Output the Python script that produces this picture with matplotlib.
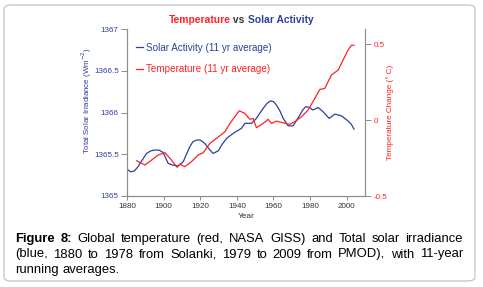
import matplotlib
matplotlib.use('Agg')
import matplotlib.pyplot as plt
from matplotlib.patches import FancyBboxPatch

plt.rcParams['font.family'] = ['Liberation Sans', 'DejaVu Sans']

# solar irradiance, 11 yr average (W/m2)
solar_years = [1880, 1882, 1884, 1886, 1888, 1890.7, 1893, 1895, 1897.5, 1899.8, 1901, 1902.5,
               1905, 1907.9, 1910.7, 1912.5, 1914.3, 1916, 1918, 1920, 1922.5, 1925, 1927,
               1929.8, 1932, 1934.4, 1938, 1942.5, 1944.4, 1948, 1950.7, 1952.5, 1954.4,
               1956.5, 1958.4, 1960, 1961.6, 1963.5, 1965.3, 1968, 1970.7, 1972.5, 1974.4,
               1976, 1977.6, 1979.5, 1981.6, 1984.4, 1987.1, 1990.4, 1993.5, 1997.1, 2000.7,
               2002.5, 2004]
solar_vals = [1365.32, 1365.29, 1365.30, 1365.35, 1365.42, 1365.51, 1365.54, 1365.55, 1365.55,
              1365.52, 1365.46, 1365.39, 1365.37, 1365.36, 1365.41, 1365.50, 1365.59, 1365.65,
              1365.67, 1365.67, 1365.63, 1365.56, 1365.51, 1365.54, 1365.62, 1365.69, 1365.75,
              1365.81, 1365.87, 1365.87, 1365.93, 1365.99, 1366.05, 1366.11, 1366.14, 1366.13,
              1366.09, 1366.02, 1365.93, 1365.84, 1365.84, 1365.90, 1365.97, 1366.03, 1366.07,
              1366.06, 1366.03, 1366.06, 1366.01, 1365.93, 1365.98, 1365.96, 1365.90, 1365.86,
              1365.80]

# temperature change, 11 yr average (deg C)
temp_years = [1885.3, 1889.8, 1893.5, 1897, 1900.7, 1903.5, 1907.4, 1908.9, 1911.6, 1915.2,
              1918.9, 1921.6, 1925.3, 1928.9, 1933.5, 1936.2, 1938.9, 1941.3, 1944.4, 1947.1,
              1948.9, 1950.7, 1954.4, 1957.1, 1958.9, 1961.6, 1965.3, 1968.9, 1971.6, 1975.3,
              1978.9, 1982.6, 1985.3, 1988, 1991.6, 1995.3, 1998, 2000.7, 2002.6, 2004]
temp_vals = [-0.268, -0.296, -0.263, -0.23, -0.215, -0.252, -0.311, -0.29, -0.307, -0.274,
             -0.23, -0.215, -0.153, -0.12, -0.077, -0.022, 0.022, 0.061, 0.044, 0.005,
             0.011, -0.05, -0.022, 0.005, -0.022, -0.007, -0.018, -0.028, -0.011, 0.022,
             0.066, 0.143, 0.202, 0.208, 0.296, 0.329, 0.395, 0.461, 0.493, 0.493]

x_ticks = [1880, 1900, 1920, 1940, 1960, 1980, 2000]
left_ticks = [1365, 1365.5, 1366, 1366.5, 1367]
right_ticks = [-0.5, 0, 0.5]

BLUE = '#2e3f9e'
RED = '#ff2222'
GREY = '#8c8c8c'

W, H = 483, 287
fig = plt.figure(figsize=(W / 100, H / 100), dpi=100)

# rounded frame round the whole figure
frame = FancyBboxPatch((4 / W, 6 / H), 471 / W, 276 / H, boxstyle='round,pad=0,rounding_size=0.015',
                       transform=fig.transFigure, facecolor='none', edgecolor='#c4c4c4', lw=0.9,
                       zorder=-5)
fig.patches.append(frame)

ax = fig.add_axes([127 / W, 1 - 196 / H, 238 / W, 167 / H])
ax.patch.set_alpha(0)
ax2 = ax.twinx()

ax.plot(solar_years, solar_vals, color=BLUE, lw=0.9, label='Solar Activity (11 yr average)')
ax2.plot(temp_years, temp_vals, color=RED, lw=0.9, label='Temperature (11 yr average)')

ax.set_xlim(1880, 2010)
ax.set_ylim(1365, 1367)
ax2.set_ylim(-0.5, 0.6)
ax.set_xticks(x_ticks)
ax.set_yticks(left_ticks)
ax.set_yticklabels(['1365', '1365.5', '1366', '1366.5', '1367'])
ax2.set_yticks(right_ticks)
ax2.set_yticklabels(['-0.5', '0', '0.5'])

for a in (ax, ax2):
    a.spines['top'].set_visible(False)
    for s in a.spines.values():
        s.set_color(GREY)
        s.set_linewidth(0.8)
ax.tick_params(axis='x', colors=GREY, labelcolor='#333333', labelsize=5.8, length=3, width=0.7, pad=2)
ax.tick_params(axis='y', colors=GREY, labelcolor=BLUE, labelsize=5.8, length=4, width=0.7, pad=2)
ax2.tick_params(axis='y', colors=GREY, labelcolor=RED, labelsize=5.8, length=4, width=0.7, pad=2)

ax.set_xlabel('Year', fontsize=6, color='#333333', labelpad=2)
ax.set_ylabel('Total Solar Irradiance (Wm$^{-2}$)', fontsize=5.7, color=BLUE)
ax.yaxis.set_label_coords(-0.138, 0.57)
ax2.set_ylabel('Temperature Change (° C)', fontsize=5.9, color=RED)
ax2.yaxis.set_label_coords(1.088, 0.5)

h1, l1 = ax.get_legend_handles_labels()
h2, l2 = ax2.get_legend_handles_labels()
leg = ax2.legend(h1 + h2, l1 + l2, loc='upper left', bbox_to_anchor=(0.0, 0.97), frameon=False,
                 fontsize=7.1, handlelength=0.75, handletextpad=0.25, labelspacing=1.15)
for txt, col in zip(leg.get_texts(), [BLUE, RED]):
    txt.set_color(col)

renderer = fig.canvas.get_renderer()


def text_width(s, **kw):
    t = fig.text(0, 0, s, **kw)
    w = t.get_window_extent(renderer).width
    t.remove()
    return w


# title in three colours
title_parts = [('Temperature', RED), (' vs ', '#333333'), ('Solar Activity', BLUE)]
tkw = dict(fontsize=7.4, fontweight='bold')
widths = [text_width(p, **tkw) for p, _ in title_parts]
x = 241 - sum(widths) / 2
for (p, c), w in zip(title_parts, widths):
    fig.text(x / W, 1 - 23 / H, p, color=c, ha='left', va='baseline', **tkw)
    x += w

# justified caption
caption_lines = [
    [('Figure', 'bold'), ('8:', 'bold'), ('Global', 'normal'), ('temperature', 'normal'),
     ('(red,', 'normal'), ('NASA', 'normal'), ('GISS)', 'normal'), ('and', 'normal'),
     ('Total', 'normal'), ('solar', 'normal'), ('irradiance', 'normal')],
    [(w, 'normal') for w in '(blue, 1880 to 1978 from Solanki, 1979 to 2009 from PMOD), with 11-year'.split()],
    [(w, 'normal') for w in 'running averages.'.split()],
]
ckw = dict(fontsize=9.4, color='black')
x0, x1 = 15, 463
baselines = [242, 257.5, 273]
space = text_width('a b', **ckw) - text_width('ab', **ckw)
for i, (line, yb) in enumerate(zip(caption_lines, baselines)):
    ws = [text_width(wd, fontweight=wt, **ckw) for wd, wt in line]
    if i < len(caption_lines) - 1:
        gap = (x1 - x0 - sum(ws)) / (len(line) - 1)
    else:
        gap = space
    x = x0
    for (wd, wt), w in zip(line, ws):
        fig.text(x / W, 1 - yb / H, wd, fontweight=wt, ha='left', va='baseline', **ckw)
        x += w + gap

fig.savefig('out.png', dpi=100)
